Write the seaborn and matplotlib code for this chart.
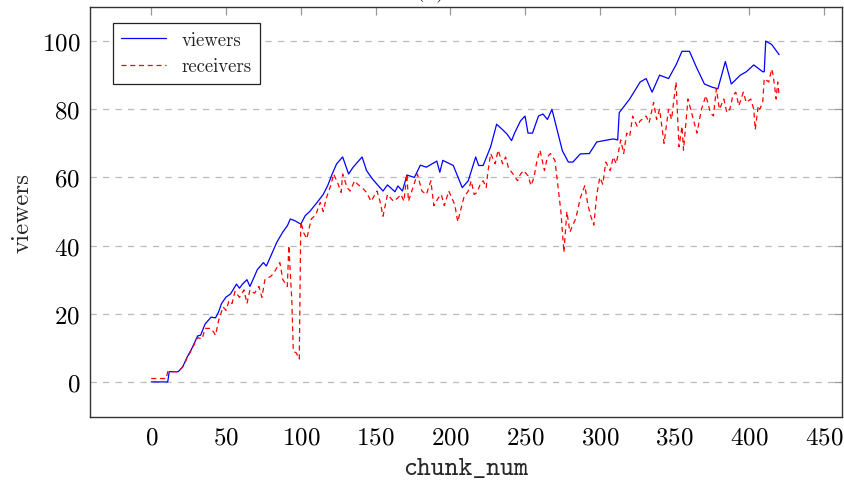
import numpy as np
import pandas as pd
import matplotlib
matplotlib.use("Agg")
import matplotlib.pyplot as plt
import seaborn as sns

# ---- data --------------------------------------------------------------
viewers_x = [0, 11, 12, 18, 21, 24, 27, 31, 33, 36, 40, 43, 45, 47, 50, 53, 57, 59, 61,
             64, 66, 71, 75, 77, 81, 84, 88, 91, 93, 96, 100, 103, 106, 111, 115, 118,
             121, 124, 128, 132, 135, 141, 144, 148, 155, 158, 163, 165, 168, 171, 176,
             180, 184, 191, 193, 195, 202, 208, 212, 217, 219, 222, 227, 231, 235, 238,
             241, 243, 247, 250, 252, 255, 259, 262, 265, 268, 272, 275, 279, 282, 287,
             293, 298, 309, 312, 313, 320, 327, 331, 335, 340, 346, 351, 355, 360, 365,
             370, 375, 379, 384, 388, 394, 398, 403, 409, 410, 411, 415, 420]
viewers = [0, 0, 3, 3, 4.4, 7.3, 9.7, 13.5, 13.7, 17, 19, 18.8, 20.5, 23, 24.9, 25.8,
           28.7, 27.5, 28.7, 30, 28, 33, 35, 34, 38, 41, 44, 45.8, 47.8, 47.3, 46.3, 48.8,
           50, 52.7, 55, 57.6, 61, 64, 66, 61, 63, 66, 62, 59.5, 56, 57.8, 55.8, 57.5, 56,
           60.7, 60, 63.6, 63, 64.8, 61.5, 65, 63.5, 57, 59, 66, 63.5, 63.5, 69, 75.6, 74,
           72.7, 70.8, 73, 76.6, 78, 73, 73, 78, 78.6, 77, 80, 73, 67.8, 64.5, 64.5, 66.9,
           67, 70.4, 71.3, 71, 79, 83, 88, 89, 85, 90, 89, 93, 97, 97, 92, 87.4, 86.5, 86,
           94, 87.4, 90, 91, 93, 91, 91, 100, 99, 96]

receivers_x = [0, 10, 11, 18, 21, 24, 27, 31, 34, 36, 40, 43, 45, 48, 50, 52, 54, 56, 59,
               62, 64, 66, 69, 72, 74, 76, 80, 82, 86, 88, 91, 92, 94, 95, 97, 99, 100,
               102, 104, 107, 110, 113, 115, 117, 120, 122, 125, 127, 128, 131, 133, 136,
               138, 141, 144, 147, 151, 153, 155, 158, 162, 165, 167, 169, 171, 172, 175,
               178, 181, 184, 187, 189, 192, 194, 196, 199, 203, 205, 209, 212, 214, 216,
               218, 220, 222, 224, 225, 227, 230, 232, 235, 237, 239, 242, 245, 247, 249,
               252, 254, 256, 258, 260, 262, 263, 265, 267, 270, 272, 274, 276, 278, 280,
               282, 284, 287, 290, 292, 294, 296, 298, 300, 302, 304, 307, 309, 311, 314,
               316, 318, 320, 322, 325, 327, 331, 333, 336, 338, 340, 343, 346, 348, 351,
               353, 355, 356, 358, 359, 362, 365, 368, 371, 374, 376, 378, 380, 383, 385,
               387, 389, 391, 393, 396, 398, 401, 403, 404, 406, 407, 409, 410, 413, 415,
               416, 418, 419, 420]
receivers = [1, 1, 3, 3, 4.4, 7, 9.5, 13, 12.6, 15.7, 15.7, 13.7, 18, 22, 21, 23.8, 23,
             26.6, 24.8, 27, 23, 27, 26, 28, 24.8, 30, 31, 32, 35, 30, 28, 40, 24, 9, 8.5,
             6.7, 47, 43.7, 42, 47.8, 49, 52.7, 50, 53.8, 57.6, 61, 58, 55.6, 61, 57, 56,
             59, 58, 57, 55.6, 53, 56, 53, 48.6, 55, 53, 54, 55, 53, 61, 53, 57, 61, 56, 55,
             59, 51.7, 54, 55, 51.7, 56, 52, 47, 54, 56, 59, 55, 55.6, 58, 59, 57, 61, 67,
             64, 68, 64, 66, 62.7, 61, 59, 61, 62, 60.5, 57.6, 60, 65, 68, 64, 62, 66, 67,
             65, 57.6, 50, 38, 50, 44, 46, 48, 54, 57.6, 52, 48.6, 46, 55, 60, 58, 64.5,
             62, 66, 64, 71, 67, 73, 72, 78, 75, 76.6, 78, 76, 82, 77, 80, 70, 80, 77, 88,
             69, 75, 68, 78, 83, 78, 73, 80, 84, 79, 78, 86, 80, 83, 79, 80, 84, 85, 81,
             85, 82, 83, 80, 74, 81, 80, 82, 89, 88, 91.8, 90, 83, 88, 84]

x_ticks = [0, 50, 100, 150, 200, 250, 300, 350, 400, 450]
y_ticks = [0, 20, 40, 60, 80, 100]

# ---- style --------------------------------------------------------------
sns.set_theme(style="white")
plt.rcParams.update({
    "font.family": ["cmr10", "DejaVu Serif"],
    "axes.formatter.use_mathtext": True,
    "axes.edgecolor": "#333333",
    "axes.linewidth": 1.0,
    "xtick.direction": "in",
    "ytick.direction": "in",
    "xtick.top": True,
    "ytick.right": True,
    "xtick.color": "#999999",
    "ytick.color": "#999999",
    "xtick.labelcolor": "black",
    "ytick.labelcolor": "black",
    "xtick.major.size": 6,
    "ytick.major.size": 6,
    "xtick.major.width": 0.9,
    "ytick.major.width": 0.9,
})

fig = plt.figure(figsize=(8.45, 4.85), dpi=100)
ax = fig.add_axes([0.1065, 0.1381, 0.8899, 0.8454])

sns.lineplot(x=viewers_x, y=viewers, ax=ax, color="blue", linewidth=0.9,
             label="viewers", estimator=None)
sns.lineplot(x=receivers_x, y=receivers, ax=ax, color="red", linewidth=0.9,
             linestyle=(0, (4, 3)), label="receivers", estimator=None)

ax.set_xlim(-41, 462)
ax.set_ylim(-10.3, 110)
ax.set_xticks(x_ticks)
ax.set_yticks(y_ticks)
ax.tick_params(labelsize=18, pad=7)
ax.yaxis.grid(True, color="#bbbbbb", linestyle=(0, (5, 5)), linewidth=0.9)
ax.xaxis.grid(False)

ax.set_xlabel("chunk_num", fontsize=19, family=["cmtt10", "DejaVu Sans Mono"], labelpad=6)
ax.set_ylabel("viewers", fontsize=18, labelpad=6)

leg = ax.legend(loc="upper left", fontsize=13.5, frameon=True, fancybox=False,
                edgecolor="#222222", framealpha=1, handlelength=2.4,
                borderpad=0.45, labelspacing=0.45, bbox_to_anchor=(0.018, 0.985))
leg.get_frame().set_linewidth(0.9)

# title sits mostly above the cropped top edge, as in the reference
fig.text(0.51, 1 + 4 / 485, "(a)", ha="center", va="baseline", fontsize=18)

fig.savefig("out.png", dpi=100)
